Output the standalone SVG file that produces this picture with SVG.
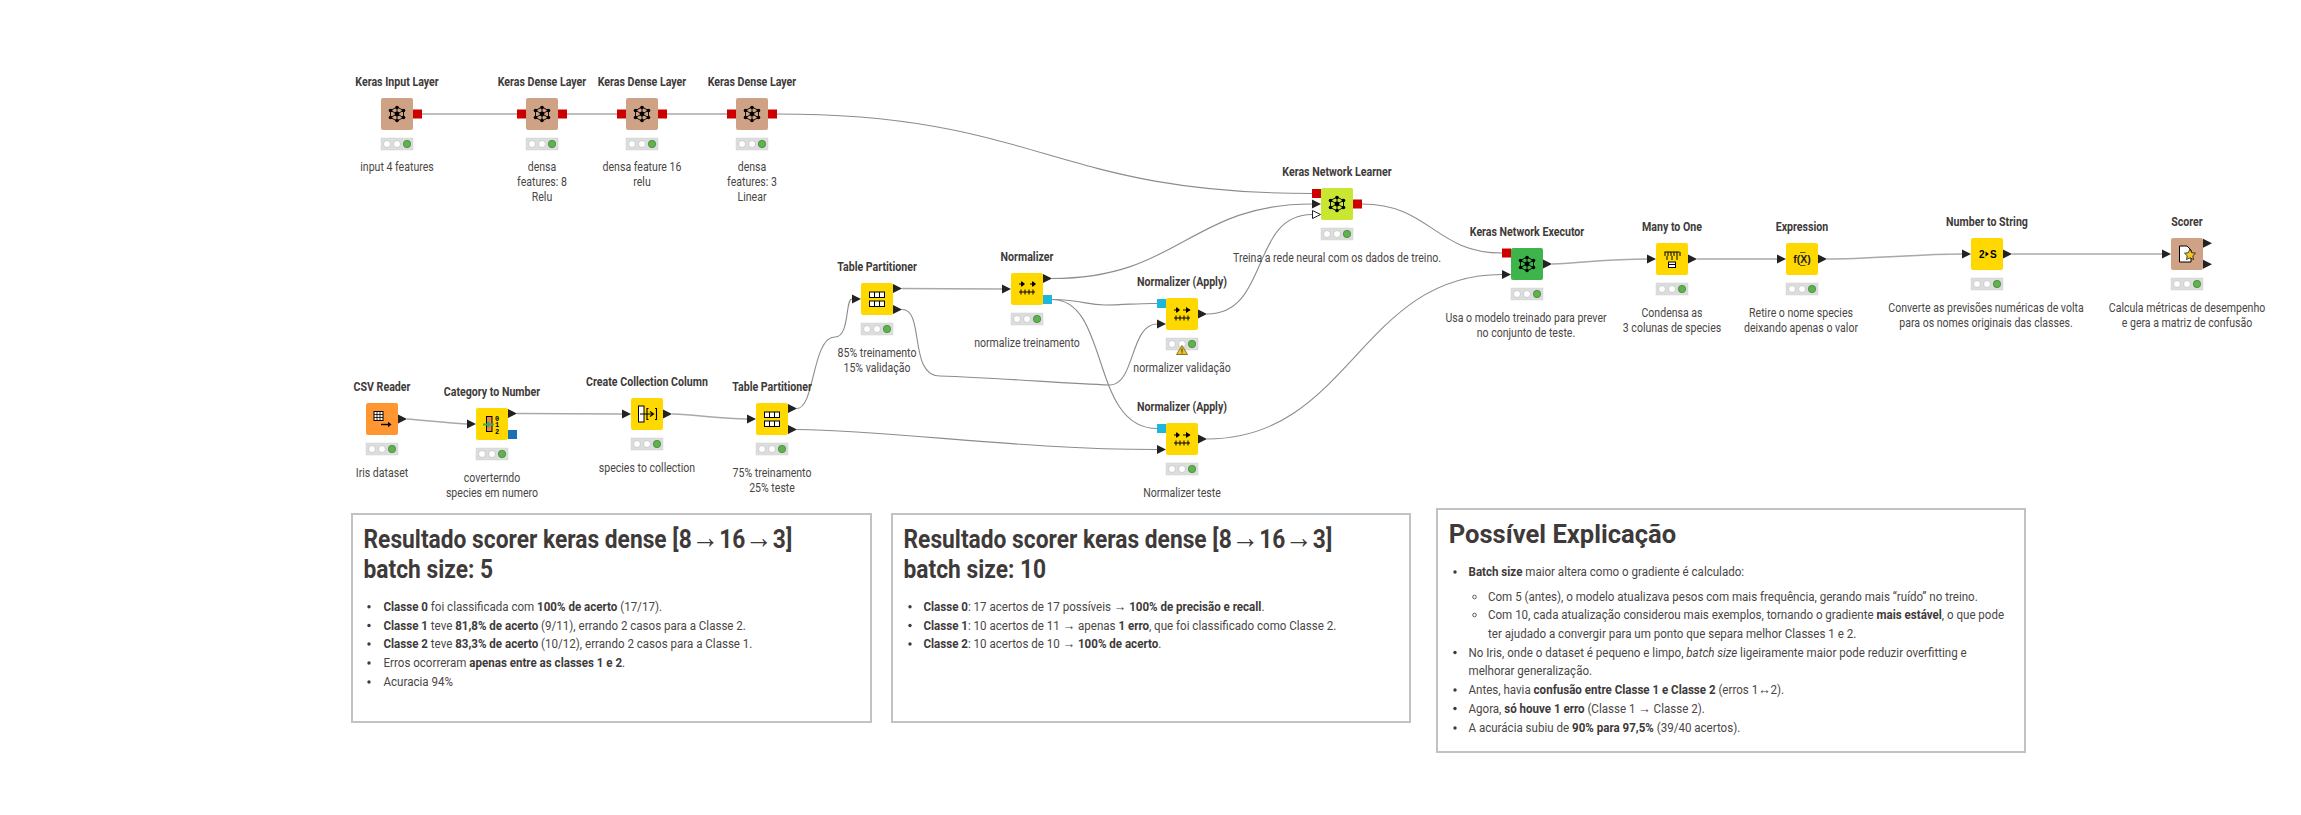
<svg xmlns="http://www.w3.org/2000/svg" width="2301" height="815" viewBox="0 0 2301 815">
<style>
text{font-family:Roboto,"Noto Sans","Liberation Sans",sans-serif;fill:#3e3a39}
.t{font-size:12px;font-weight:700;text-anchor:middle}
.l{font-size:12px;text-anchor:middle;fill:#4a4645}
.h{font-size:26.5px;font-weight:700}
.h .a{font-family:"Liberation Serif",serif;font-weight:400;font-size:32px}
.b{font-size:13px;fill:#4a4645}
.b tspan.s{font-weight:700;fill:#3e3a39}
.b tspan.a{font-family:"Liberation Sans",sans-serif;font-size:14px}
.box{fill:#fff;stroke:#c0c3c6;stroke-width:2}
.sq{stroke:none}
.kb{fill:#d0a285}.ye{fill:#ffd800}.or{fill:#ff9632}.lg{fill:#c8e632}.dg{fill:#3db54a}
.red{fill:#cd0000}.blu{fill:#1a6fb5}.cy{fill:#1fb6de}
.c{fill:none;stroke:#8c8c8c;stroke-width:1.1}
.cs{fill:none;stroke:#a9a9a9;stroke-width:1.5}
.dot{fill:#3e3a39}
</style>
<defs>
<rect id="node" class="sq" x="-16" y="-16" width="32" height="32" rx="2"/>
<polygon id="p" points="0,-4.5 9,0 0,4.500" fill="#222"/>
<g id="bar">
<rect x="-16" y="-6" width="32" height="12" fill="#dcdedd" stroke="#cfd1d0" stroke-width=".5"/>
<circle cx="-10" cy="0" r="3.500" fill="#fff" stroke="#b5b5b5" stroke-width=".6"/>
<circle cx="0" cy="0" r="3.500" fill="#fff" stroke="#b5b5b5" stroke-width=".6"/>
<circle cx="10" cy="0" r="3.700" fill="#5fb24d" stroke="#3f7f34" stroke-width=".7"/>
</g>
<g id="keras">
<path d="M0,-7 6.500,-3.500V3.500L0,7-6.500,3.500V-3.500ZM-6.500,-3.500 6.500,3.500M6.500,-3.500-6.500,3.500M0,-7V7" fill="none" stroke="#000" stroke-width=".9"/>
<g fill="#000"><circle r="2.400"/><circle cy="-6.500" r="1.800"/><circle cy="6.500" r="1.800"/><circle cx="-6.500" cy="-3.500" r="1.800"/><circle cx="6.500" cy="-3.500" r="1.800"/><circle cx="-6.500" cy="3.500" r="1.800"/><circle cx="6.500" cy="3.500" r="1.800"/></g>
</g>
<g id="tbl">
<rect x="-7.500" y="-7" width="15" height="5.500" fill="#fff" stroke="#000" stroke-width="1"/>
<rect x="-7.500" y="2" width="15" height="5.500" fill="#fff" stroke="#000" stroke-width="1"/>
<path d="M-2.500,-7V-1.500M2.500,-7V-1.500M-2.500,2V7.500M2.500,2V7.500" stroke="#000" stroke-width="1"/>
</g>
<g id="ruler"><path d="M-8,0H8M-6,-2.500V2.500M-2,-2.500V2.500M2,-2.500V2.500M6,-2.500V2.500" stroke="#000" fill="none" stroke-width="1"/></g>
</defs>
<rect width="2301" height="815" fill="#fff"/>

<g id="connectors">
<path class="cs" d="M422,114H517"/>
<path class="cs" d="M567,114H617"/>
<path class="cs" d="M667,114H727"/>
<path class="c" d="M777,114C1040,114 1050,193.500 1312,193.500"/>
<path class="cs" d="M407,419C430,421 445,423 467,424"/>
<path class="cs" d="M517,413.500C560,413.500 580,414 622,414"/>
<path class="cs" d="M672,414C700,415 720,419 747,419"/>
<path class="c" d="M797,408.500C815,408 812,337 835,337C850,337 845,299 852,299"/>
<path class="c" d="M797,429.500C900,431 1020,449.500 1157,449.500"/>
<path class="cs" d="M902,288.500C940,288.500 960,289 1002,289"/>
<path class="c" d="M902,309.500C925,309 908,376 940,376C1000,378 1060,383 1110,385C1135,385 1130,324 1157,324"/>
<path class="c" d="M1052,278.500C1180,278.500 1190,204 1312,204"/>
<path class="c" d="M1052,299.500C1085,300 1085,305 1105,305C1125,305 1140,303 1157,303.500"/>
<path class="c" d="M1052,299.500C1110,299.500 1090,428.500 1157,428.500"/>
<path class="c" d="M1207,314C1270,314 1250,214.500 1312,214.500"/>
<path class="c" d="M1362,204C1430,204 1435,253 1502,253"/>
<path class="c" d="M1207,439C1350,439 1360,274.500 1502,274.500"/>
<path class="cs" d="M1552,264C1590,262 1610,259 1647,259"/>
<path class="cs" d="M1697,259H1777"/>
<path class="cs" d="M1827,259C1870,259 1920,254 1962,254"/>
<path class="cs" d="M2012,254H2162"/>
</g>

<g id="keras-input-layer">
<text class="t" transform="matrix(.885 0 0 1 397 86)">Keras Input Layer</text>
<use href="#node" x="397" y="114" class="kb"/><use href="#keras" x="397" y="114"/>
<rect class="red" x="413" y="109.500" width="9" height="9"/>
<use href="#bar" x="397" y="144"/>
<text class="l" transform="matrix(.88 0 0 1 397 171)">input 4 features</text>
</g>
<g id="keras-dense-1">
<text class="t" transform="matrix(.885 0 0 1 542 86)">Keras Dense Layer</text>
<use href="#node" x="542" y="114" class="kb"/><use href="#keras" x="542" y="114"/>
<rect class="red" x="517" y="109.500" width="9" height="9"/><rect class="red" x="558" y="109.500" width="9" height="9"/>
<use href="#bar" x="542" y="144"/>
<text class="l" transform="matrix(.88 0 0 1 542 171)">densa</text>
<text class="l" transform="matrix(.88 0 0 1 542 186)">features: 8</text>
<text class="l" transform="matrix(.88 0 0 1 542 201)">Relu</text>
</g>
<g id="keras-dense-2">
<text class="t" transform="matrix(.885 0 0 1 642 86)">Keras Dense Layer</text>
<use href="#node" x="642" y="114" class="kb"/><use href="#keras" x="642" y="114"/>
<rect class="red" x="617" y="109.500" width="9" height="9"/><rect class="red" x="658" y="109.500" width="9" height="9"/>
<use href="#bar" x="642" y="144"/>
<text class="l" transform="matrix(.88 0 0 1 642 171)">densa feature 16</text>
<text class="l" transform="matrix(.88 0 0 1 642 186)">relu</text>
</g>
<g id="keras-dense-3">
<text class="t" transform="matrix(.885 0 0 1 752 86)">Keras Dense Layer</text>
<use href="#node" x="752" y="114" class="kb"/><use href="#keras" x="752" y="114"/>
<rect class="red" x="727" y="109.500" width="9" height="9"/><rect class="red" x="768" y="109.500" width="9" height="9"/>
<use href="#bar" x="752" y="144"/>
<text class="l" transform="matrix(.88 0 0 1 752 171)">densa</text>
<text class="l" transform="matrix(.88 0 0 1 752 186)">features: 3</text>
<text class="l" transform="matrix(.88 0 0 1 752 201)">Linear</text>
</g>

<g id="csv-reader">
<text class="t" transform="matrix(.885 0 0 1 382 390.700)">CSV Reader</text>
<use href="#node" x="382" y="419" class="or"/>
<rect x="374" y="411.500" width="9" height="9" fill="#fff" stroke="#000"/>
<path d="M377,411.500V420.500M380,411.500V420.500M374,414.500H383M374,417.500H383" stroke="#000" stroke-width=".8"/>
<path d="M381,424.500H389" stroke="#000" stroke-width="1.400"/><polygon points="388,421.800 391.500,424.500 388,427.200"/>
<use href="#p" x="398" y="419"/>
<use href="#bar" x="382" y="449"/>
<text class="l" transform="matrix(.88 0 0 1 382 476.700)">Iris dataset</text>
</g>
<g id="category-to-number">
<text class="t" transform="matrix(.885 0 0 1 492 395.700)">Category to Number</text>
<use href="#p" x="467" y="424"/>
<use href="#node" x="492" y="424" class="ye"/>
<rect x="486.500" y="416.500" width="5.500" height="15" fill="#ee8a3c" stroke="#000"/>
<path d="M483,424.500H494M488.500,421.500V427.500" stroke="#4aa36a" stroke-width="2.200"/>
<text x="495" y="420.500" style="font:700 7px 'Liberation Mono',monospace;fill:#000">0</text>
<text x="495" y="427" style="font:700 7px 'Liberation Mono',monospace;fill:#000">1</text>
<text x="495" y="433.500" style="font:700 7px 'Liberation Mono',monospace;fill:#000">2</text>
<use href="#p" x="508" y="413.500"/>
<rect class="blu" x="508" y="430" width="9" height="9"/>
<use href="#bar" x="492" y="454"/>
<text class="l" transform="matrix(.88 0 0 1 492 481.700)">coverterndo</text>
<text class="l" transform="matrix(.88 0 0 1 492 496.700)">species em numero</text>
</g>
<g id="create-collection-column">
<text class="t" transform="matrix(.885 0 0 1 647 385.700)">Create Collection Column</text>
<use href="#p" x="622" y="414"/>
<use href="#node" x="647" y="414" class="ye"/>
<rect x="638.500" y="406" width="5.500" height="16" fill="#fff" stroke="#000"/>
<path d="M640,414H653M650,411.500L653.500,414 650,416.500M648.500,408.500H647V419.500H648.500M655,408.500H656.500V419.500H655" fill="none" stroke="#000" stroke-width="1.100"/>
<use href="#p" x="663" y="414"/>
<use href="#bar" x="647" y="444"/>
<text class="l" transform="matrix(.88 0 0 1 647 471.700)">species to collection</text>
</g>
<g id="table-partitioner-1">
<text class="t" transform="matrix(.885 0 0 1 772 390.700)">Table Partitioner</text>
<use href="#p" x="747" y="419"/>
<use href="#node" x="772" y="419" class="ye"/><use href="#tbl" x="772" y="419"/>
<use href="#p" x="788" y="408.500"/><use href="#p" x="788" y="429.500"/>
<use href="#bar" x="772" y="449"/>
<text class="l" transform="matrix(.88 0 0 1 772 476.700)">75% treinamento</text>
<text class="l" transform="matrix(.88 0 0 1 772 491.700)">25% teste</text>
</g>
<g id="table-partitioner-2">
<text class="t" transform="matrix(.885 0 0 1 877 270.700)">Table Partitioner</text>
<use href="#p" x="852" y="299"/>
<use href="#node" x="877" y="299" class="ye"/><use href="#tbl" x="877" y="299"/>
<use href="#p" x="893" y="288.500"/><use href="#p" x="893" y="309.500"/>
<use href="#bar" x="877" y="329"/>
<text class="l" transform="matrix(.88 0 0 1 877 356.700)">85% treinamento</text>
<text class="l" transform="matrix(.88 0 0 1 877 371.700)">15% validação</text>
</g>
<g id="normalizer">
<text class="t" transform="matrix(.885 0 0 1 1027 260.700)">Normalizer</text>
<use href="#p" x="1002" y="289"/>
<use href="#node" x="1027" y="289" class="ye"/>
<use href="#ruler" x="1027" y="292"/>
<path d="M1019,284H1024M1030,284H1035M1021.500,281.500V286.500M1032.500,281.500V286.500" stroke="#000" stroke-width="1"/><polygon points="1022,281.500 1025,284 1022,286.500"/><polygon points="1033,281.500 1036,284 1033,286.500"/>
<use href="#p" x="1043" y="278.500"/>
<rect class="cy" x="1043" y="295" width="9" height="9"/>
<use href="#bar" x="1027" y="319"/>
<text class="l" transform="matrix(.88 0 0 1 1027 346.700)">normalize treinamento</text>
</g>
<g id="normalizer-apply-1">
<text class="t" transform="matrix(.885 0 0 1 1182 286)">Normalizer (Apply)</text>
<rect class="cy" x="1157" y="299" width="9" height="9"/>
<use href="#p" x="1157" y="324"/>
<use href="#node" x="1182" y="314" class="ye"/>
<use href="#ruler" x="1182" y="318"/>
<path d="M1174,310H1179M1183,310H1190M1176.500,307.500V312.500" stroke="#000" stroke-width="1"/><polygon points="1177,307.500 1180,310 1177,312.500"/><polygon points="1186,307 1190.500,310 1186,313"/>
<use href="#p" x="1198" y="314"/>
<use href="#bar" x="1182" y="344"/>
<polygon points="1182,345.500 1187.500,354.500 1176.500,354.500" fill="#f0c322" stroke="#6a5a1a" stroke-width=".8"/>
<path d="M1182,348.500V351.800M1182,352.500V353.500" stroke="#222" stroke-width="1"/>
<text class="l" transform="matrix(.88 0 0 1 1182 371.700)">normalizer validação</text>
</g>
<g id="normalizer-apply-2">
<text class="t" transform="matrix(.885 0 0 1 1182 410.700)">Normalizer (Apply)</text>
<rect class="cy" x="1157" y="424" width="9" height="9"/>
<use href="#p" x="1157" y="449.500"/>
<use href="#node" x="1182" y="439" class="ye"/>
<use href="#ruler" x="1182" y="443"/>
<path d="M1174,435H1179M1183,435H1190M1176.500,432.500V437.500" stroke="#000" stroke-width="1"/><polygon points="1177,432.500 1180,435 1177,437.500"/><polygon points="1186,432 1190.500,435 1186,438"/>
<use href="#p" x="1198" y="439"/>
<use href="#bar" x="1182" y="469"/>
<text class="l" transform="matrix(.88 0 0 1 1182 496.700)">Normalizer teste</text>
</g>
<g id="keras-network-learner">
<text class="t" transform="matrix(.885 0 0 1 1337 175.700)">Keras Network Learner</text>
<rect class="red" x="1312" y="189" width="9" height="9"/>
<use href="#p" x="1312" y="204"/>
<polygon points="1312.500,210.500 1320.500,214.500 1312.500,218.500" fill="#fff" stroke="#222" stroke-width="1"/>
<use href="#node" x="1337" y="204" class="lg"/><use href="#keras" x="1337" y="204"/>
<rect class="red" x="1353" y="199.500" width="9" height="9"/>
<use href="#bar" x="1337" y="234"/>
<text class="l" transform="matrix(.88 0 0 1 1337 261.700)">Treina a rede neural com os dados de treino.</text>
</g>
<g id="keras-network-executor">
<text class="t" transform="matrix(.885 0 0 1 1527 235.700)">Keras Network Executor</text>
<rect class="red" x="1502" y="248.500" width="9" height="9"/>
<use href="#p" x="1502" y="274.500"/>
<use href="#node" x="1527" y="264" class="dg"/><use href="#keras" x="1527" y="264"/>
<use href="#p" x="1543" y="264"/>
<use href="#bar" x="1527" y="294"/>
<text class="l" transform="matrix(.88 0 0 1 1526 321.700)">Usa o modelo treinado para prever</text>
<text class="l" transform="matrix(.88 0 0 1 1526 336.700)">no conjunto de teste.</text>
</g>
<g id="many-to-one">
<text class="t" transform="matrix(.885 0 0 1 1672 230.700)">Many to One</text>
<use href="#p" x="1647" y="259"/>
<use href="#node" x="1672" y="259" class="ye"/>
<path d="M1664.500,252H1679.500M1665,252V256M1668,252V256M1671,252V256M1674,252V256M1677,252V256M1680,252V256M1667,256V260M1672,256V260M1677,256V260" stroke="#000" stroke-width="1" fill="none"/>
<rect x="1668.500" y="262" width="7" height="5.500" fill="#fff" stroke="#000"/><path d="M1668.500,264.500H1675.500" stroke="#000"/>
<use href="#p" x="1688" y="259"/>
<use href="#bar" x="1672" y="289"/>
<text class="l" transform="matrix(.88 0 0 1 1672 316.700)">Condensa as</text>
<text class="l" transform="matrix(.88 0 0 1 1672 331.700)">3 colunas de species</text>
</g>
<g id="expression">
<text class="t" transform="matrix(.885 0 0 1 1802 230.700)">Expression</text>
<use href="#p" x="1777" y="259"/>
<use href="#node" x="1802" y="259" class="ye"/>
<text x="1802" y="263" style="font:700 10.500px 'Liberation Sans',sans-serif;fill:#222;text-anchor:middle">f(X)</text>
<path d="M1800,252.500H1805.500M1800,265.500H1805.500" stroke="#333" stroke-width=".8"/>
<use href="#p" x="1818" y="259"/>
<use href="#bar" x="1802" y="289"/>
<text class="l" transform="matrix(.88 0 0 1 1801 316.700)">Retire o nome species</text>
<text class="l" transform="matrix(.88 0 0 1 1801 331.700)">deixando apenas o valor</text>
</g>
<g id="number-to-string">
<text class="t" transform="matrix(.885 0 0 1 1987 225.700)">Number to String</text>
<use href="#p" x="1962" y="254"/>
<use href="#node" x="1987" y="254" class="ye"/>
<text x="1979" y="258" style="font:700 10px 'Liberation Sans',sans-serif;fill:#000">2</text>
<polygon points="1985.500,251.500 1989,254 1985.500,256.500"/>
<text x="1990" y="258" style="font:700 10px 'Liberation Sans',sans-serif;fill:#000">S</text>
<use href="#p" x="2003" y="254"/>
<use href="#bar" x="1987" y="284"/>
<text class="l" transform="matrix(.88 0 0 1 1986 311.700)">Converte as previsões numéricas de volta</text>
<text class="l" transform="matrix(.88 0 0 1 1986 326.700)">para os nomes originais das classes.</text>
</g>
<g id="scorer">
<text class="t" transform="matrix(.885 0 0 1 2187 225.700)">Scorer</text>
<use href="#p" x="2162" y="254"/>
<use href="#node" x="2187" y="254" class="kb"/>
<path d="M2179.500,246H2187L2191,250V262H2179.500Z" fill="#fff" stroke="#000"/>
<polygon points="2190,249 2191.700,252.700 2195.500,253.200 2192.800,255.800 2193.500,259.600 2190,257.800 2186.500,259.600 2187.200,255.800 2184.500,253.200 2188.300,252.700" fill="#f2c81e" stroke="#000" stroke-width=".7"/>
<use href="#p" x="2203" y="243.300"/><use href="#p" x="2203" y="264.300"/>
<use href="#bar" x="2187" y="284"/>
<text class="l" transform="matrix(.88 0 0 1 2187 311.700)">Calcula métricas de desempenho</text>
<text class="l" transform="matrix(.88 0 0 1 2187 326.700)">e gera a matriz de confusão</text>
</g>

<g id="annotation-batch-5">
<rect class="box" x="352" y="514" width="519" height="208"/>
<text class="h" transform="matrix(.86 0 0 1 363.500 547.700)">Resultado scorer keras dense [8<tspan class="a">→</tspan>16<tspan class="a">→</tspan>3]</text>
<text class="h" transform="matrix(.86 0 0 1 363.500 577.700)">batch size: 5</text>
<circle class="dot" cx="369" cy="606.800" r="1.700"/><text class="b" transform="matrix(.89 0 0 1 383.500 611)"><tspan class="s">Classe 0</tspan> foi classificada com <tspan class="s">100% de acerto</tspan> (17/17).</text>
<circle class="dot" cx="369" cy="625.500" r="1.700"/><text class="b" transform="matrix(.89 0 0 1 383.500 630)"><tspan class="s">Classe 1</tspan> teve <tspan class="s">81,8% de acerto</tspan> (9/11), errando 2 casos para a Classe 2.</text>
<circle class="dot" cx="369" cy="644" r="1.700"/><text class="b" transform="matrix(.89 0 0 1 383.500 648)"><tspan class="s">Classe 2</tspan> teve <tspan class="s">83,3% de acerto</tspan> (10/12), errando 2 casos para a Classe 1.</text>
<circle class="dot" cx="369" cy="663" r="1.700"/><text class="b" transform="matrix(.89 0 0 1 383.500 667)">Erros ocorreram <tspan class="s">apenas entre as classes 1 e 2</tspan>.</text>
<circle class="dot" cx="369" cy="682" r="1.700"/><text class="b" transform="matrix(.89 0 0 1 383.500 686)">Acuracia 94%</text>
</g>
<g id="annotation-batch-10">
<rect class="box" x="892" y="514" width="518" height="208"/>
<text class="h" transform="matrix(.86 0 0 1 903.500 547.700)">Resultado scorer keras dense [8<tspan class="a">→</tspan>16<tspan class="a">→</tspan>3]</text>
<text class="h" transform="matrix(.86 0 0 1 903.500 577.700)">batch size: 10</text>
<circle class="dot" cx="910" cy="606.800" r="1.700"/><text class="b" transform="matrix(.89 0 0 1 923.500 611)"><tspan class="s">Classe 0</tspan>: 17 acertos de 17 possíveis <tspan class="a">→</tspan> <tspan class="s">100% de precisão e recall</tspan>.</text>
<circle class="dot" cx="910" cy="625.500" r="1.700"/><text class="b" transform="matrix(.89 0 0 1 923.500 630)"><tspan class="s">Classe 1</tspan>: 10 acertos de 11 <tspan class="a">→</tspan> apenas <tspan class="s">1 erro</tspan>, que foi classificado como Classe 2.</text>
<circle class="dot" cx="910" cy="644" r="1.700"/><text class="b" transform="matrix(.89 0 0 1 923.500 648)"><tspan class="s">Classe 2</tspan>: 10 acertos de 10 <tspan class="a">→</tspan> <tspan class="s">100% de acerto</tspan>.</text>
</g>
<g id="annotation-explicacao">
<rect class="box" x="1437" y="509" width="588" height="243"/>
<text class="h" transform="matrix(.965 0 0 1 1448.700 542.700)">Possível Explicação</text>
<circle class="dot" cx="1455" cy="572" r="1.700"/><text class="b" transform="matrix(.89 0 0 1 1468.500 576)"><tspan class="s">Batch size</tspan> maior altera como o gradiente é calculado:</text>
<circle cx="1474.500" cy="597" r="1.800" fill="none" stroke="#3e3a39" stroke-width=".8"/><text class="b" transform="matrix(.89 0 0 1 1488 601)">Com 5 (antes), o modelo atualizava pesos com mais frequência, gerando mais “ruído” no treino.</text>
<circle cx="1474.500" cy="615" r="1.800" fill="none" stroke="#3e3a39" stroke-width=".8"/><text class="b" transform="matrix(.89 0 0 1 1488 619)">Com 10, cada atualização considerou mais exemplos, tornando o gradiente <tspan class="s">mais estável</tspan>, o que pode</text>
<text class="b" transform="matrix(.89 0 0 1 1488 637.700)">ter ajudado a convergir para um ponto que separa melhor Classes 1 e 2.</text>
<circle class="dot" cx="1455" cy="652.500" r="1.700"/><text class="b" transform="matrix(.89 0 0 1 1468.500 656.700)">No Iris, onde o dataset é pequeno e limpo, <tspan font-style="italic">batch size</tspan> ligeiramente maior pode reduzir overfitting e</text>
<text class="b" transform="matrix(.89 0 0 1 1468.500 675)">melhorar generalização.</text>
<circle class="dot" cx="1455" cy="690" r="1.700"/><text class="b" transform="matrix(.89 0 0 1 1468.500 694)">Antes, havia <tspan class="s">confusão entre Classe 1 e Classe 2</tspan> (erros 1<tspan class="a">↔</tspan>2).</text>
<circle class="dot" cx="1455" cy="708.500" r="1.700"/><text class="b" transform="matrix(.89 0 0 1 1468.500 712.700)">Agora, <tspan class="s">só houve 1 erro</tspan> (Classe 1 <tspan class="a">→</tspan> Classe 2).</text>
<circle class="dot" cx="1455" cy="728" r="1.700"/><text class="b" transform="matrix(.89 0 0 1 1468.500 732)">A acurácia subiu de <tspan class="s">90% para 97,5%</tspan> (39/40 acertos).</text>
</g>
</svg>
